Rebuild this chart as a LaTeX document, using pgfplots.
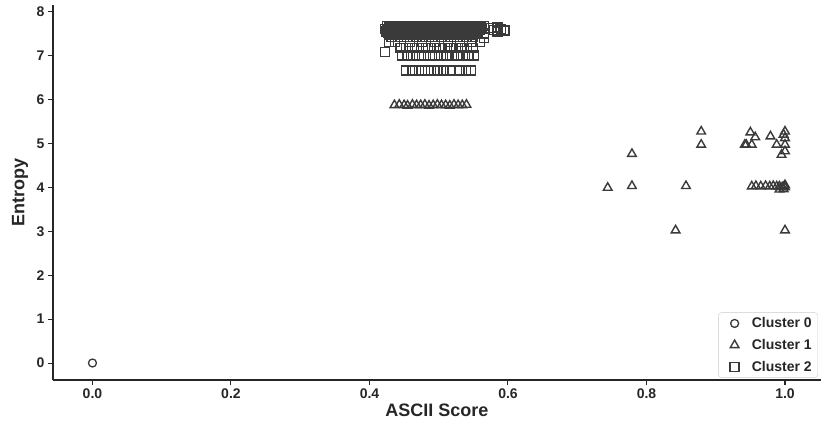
\documentclass[border=0pt]{standalone}
\usepackage{pgfplots}
\pgfplotsset{compat=1.18}
\usepackage{fontspec}
\setmainfont{Liberation Sans}
\definecolor{spine}{HTML}{262626}
\definecolor{mk}{HTML}{3A3A3A}
\begin{document}
\begin{tikzpicture}
\begin{axis}[
 scale only axis, width=768pt, height=375pt,
 xmin=-0.057, xmax=1.052, ymin=-0.387, ymax=8.15,
 axis lines=left, axis line style={-, spine, line width=1.1pt},
 tick align=outside, tick style={spine, line width=1pt}, major tick length=5pt,
 xtick={0,0.2,0.4,0.6,0.8,1.0}, ytick={0,1,2,3,4,5,6,7,8},
 xticklabels={0.0,0.2,0.4,0.6,0.8,1.0},
 /pgf/number format/assume math mode=true,
 ticklabel style={font=\fontsize{14}{16}\selectfont\bfseries, text=spine},
 xlabel={ASCII Score}, ylabel={Entropy},
 label style={font=\fontsize{18}{20}\selectfont\bfseries, text=spine},
 x label style={at={(axis description cs:0.5,0)}, anchor=center, yshift=-30pt},
 y label style={at={(axis description cs:-0.043,0.5)}, anchor=center},
 legend style={at={(rel axis cs:0.996,0.006)}, anchor=south east,
   draw=black!20, rounded corners=3pt, fill=white, fill opacity=0.8, text opacity=1,
   font=\fontsize{14}{16}\selectfont\bfseries, text=spine, row sep=6pt,
   inner xsep=4pt, inner ysep=3pt},
 legend image code/.code={\path (0pt,-4pt) (27pt,4pt); \draw[#1] plot coordinates {(12pt,0pt)};},
 legend cell align=left,
]
\addplot[only marks, mark=o, mark size=4pt, mark options={draw=mk, fill=none, line width=1.3pt}]
 coordinates {(0,0)};
\addplot[only marks, mark=triangle, mark size=5pt, mark options={draw=mk, fill=none, line width=1.4pt}]
 coordinates {
 (0.744,3.99) (0.779,4.03) (0.779,4.76) (0.842,3.02) (0.857,4.03) (0.879,5.27) (0.879,4.97)
 (0.942,4.97) (0.944,4.97) (0.950,5.25) (0.952,4.97) (0.957,5.14) (0.979,5.16) (0.988,4.97)
 (1.0,5.27) (1.0,5.12) (1.0,4.97) (1.0,4.82) (0.995,4.74) (0.998,5.20)
 (0.952,4.02) (0.958,4.03) (0.965,4.02) (0.972,4.03) (0.978,4.02) (0.983,4.03) (0.988,4.02)
 (0.992,4.02) (0.996,4.00) (0.999,4.02) (1.0,4.00) (0.992,3.95) (0.998,3.96) (1.0,4.05)
 (1.0,3.02)
 (0.436,5.87) (0.443,5.88) (0.450,5.87) (0.455,5.86) (0.462,5.88) (0.468,5.87) (0.474,5.87)
 (0.480,5.88) (0.486,5.86) (0.492,5.87) (0.498,5.88) (0.504,5.87) (0.510,5.87) (0.516,5.86)
 (0.522,5.88) (0.528,5.87) (0.534,5.87) (0.540,5.88)
 };
\addplot[only marks, mark=square, mark size=4.5pt, mark options={draw=mk, fill=none, line width=1.3pt}]
 coordinates {
 (0.425,7.67) (0.432,7.67) (0.439,7.67) (0.446,7.67) (0.453,7.67) (0.460,7.67) (0.467,7.67)
 (0.474,7.67) (0.481,7.67) (0.488,7.67) (0.495,7.67) (0.502,7.67) (0.509,7.67) (0.516,7.67)
 (0.523,7.67) (0.530,7.67) (0.537,7.67) (0.544,7.67) (0.551,7.67) (0.558,7.67) (0.565,7.67)
 (0.428,7.64) (0.435,7.64) (0.442,7.64) (0.449,7.64) (0.456,7.64) (0.463,7.64) (0.470,7.64)
 (0.477,7.64) (0.484,7.64) (0.491,7.64) (0.498,7.64) (0.505,7.64) (0.512,7.64) (0.519,7.64)
 (0.526,7.64) (0.533,7.64) (0.540,7.64) (0.547,7.64) (0.554,7.64) (0.561,7.64)
 (0.422,7.61) (0.429,7.61) (0.436,7.61) (0.443,7.61) (0.450,7.61) (0.457,7.61) (0.464,7.61)
 (0.471,7.61) (0.478,7.61) (0.485,7.61) (0.492,7.61) (0.499,7.61) (0.506,7.61) (0.513,7.61)
 (0.520,7.61) (0.527,7.61) (0.534,7.61) (0.541,7.61) (0.548,7.61) (0.555,7.61) (0.562,7.61)
 (0.426,7.58) (0.433,7.58) (0.440,7.58) (0.447,7.58) (0.454,7.58) (0.461,7.58) (0.468,7.58)
 (0.475,7.58) (0.482,7.58) (0.489,7.58) (0.496,7.58) (0.503,7.58) (0.510,7.58) (0.517,7.58)
 (0.524,7.58) (0.531,7.58) (0.538,7.58) (0.545,7.58) (0.552,7.58) (0.559,7.58)
 (0.424,7.55) (0.431,7.55) (0.438,7.55) (0.445,7.55) (0.452,7.55) (0.459,7.55) (0.466,7.55)
 (0.473,7.55) (0.480,7.55) (0.487,7.55) (0.494,7.55) (0.501,7.55) (0.508,7.55) (0.515,7.55)
 (0.522,7.55) (0.529,7.55) (0.536,7.55) (0.543,7.55) (0.550,7.55) (0.557,7.55)
 (0.427,7.52) (0.434,7.52) (0.441,7.52) (0.448,7.52) (0.455,7.52) (0.462,7.52) (0.469,7.52)
 (0.476,7.52) (0.483,7.52) (0.490,7.52) (0.497,7.52) (0.504,7.52) (0.511,7.52) (0.518,7.52)
 (0.525,7.52) (0.532,7.52) (0.539,7.52) (0.546,7.52) (0.553,7.52)
 (0.428,7.49) (0.436,7.49) (0.444,7.49) (0.452,7.49) (0.460,7.49) (0.468,7.49) (0.476,7.49)
 (0.484,7.49) (0.492,7.49) (0.500,7.49) (0.508,7.49) (0.516,7.49) (0.524,7.49) (0.532,7.49)
 (0.540,7.49) (0.548,7.49) (0.556,7.49)
 (0.430,7.46) (0.439,7.46) (0.448,7.46) (0.457,7.46) (0.466,7.46) (0.475,7.46) (0.484,7.46)
 (0.493,7.46) (0.502,7.46) (0.511,7.46) (0.520,7.46) (0.529,7.46) (0.538,7.46) (0.547,7.46)
 (0.432,7.42) (0.441,7.42) (0.450,7.42) (0.459,7.42) (0.468,7.42) (0.477,7.42) (0.486,7.42)
 (0.495,7.42) (0.504,7.42) (0.513,7.42) (0.522,7.42) (0.531,7.42) (0.540,7.42) (0.549,7.42)
 (0.428,7.30) (0.437,7.30) (0.458,7.30) (0.476,7.30) (0.495,7.30) (0.513,7.30) (0.531,7.30)
 (0.548,7.30) (0.560,7.30)
 (0.445,7.17) (0.453,7.17) (0.461,7.17) (0.469,7.17) (0.477,7.17) (0.485,7.17) (0.493,7.17)
 (0.501,7.17) (0.509,7.17) (0.517,7.17) (0.525,7.17) (0.533,7.17) (0.541,7.17) (0.549,7.17)
 (0.447,7.00) (0.455,7.00) (0.463,7.00) (0.471,7.00) (0.479,7.00) (0.487,7.00) (0.495,7.00)
 (0.503,7.00) (0.511,7.00) (0.519,7.00) (0.527,7.00) (0.535,7.00) (0.543,7.00) (0.551,7.00)
 (0.453,6.66) (0.462,6.66) (0.471,6.66) (0.480,6.66) (0.489,6.66) (0.498,6.66) (0.507,6.66)
 (0.516,6.66) (0.530,6.66) (0.539,6.66) (0.547,6.66)
 (0.422,7.08)
 (0.575,7.62) (0.580,7.58) (0.585,7.64) (0.590,7.60) (0.595,7.57) (0.585,7.55)
 (0.565,7.50) (0.565,7.40)
 };
\legend{Cluster 0, Cluster 1, Cluster 2}
\end{axis}
\pgfresetboundingbox
\path ([shift={(-53pt,-45pt)}]current axis.south west) rectangle ([shift={(0pt,5pt)}]current axis.north east);
\end{tikzpicture}
\end{document}
